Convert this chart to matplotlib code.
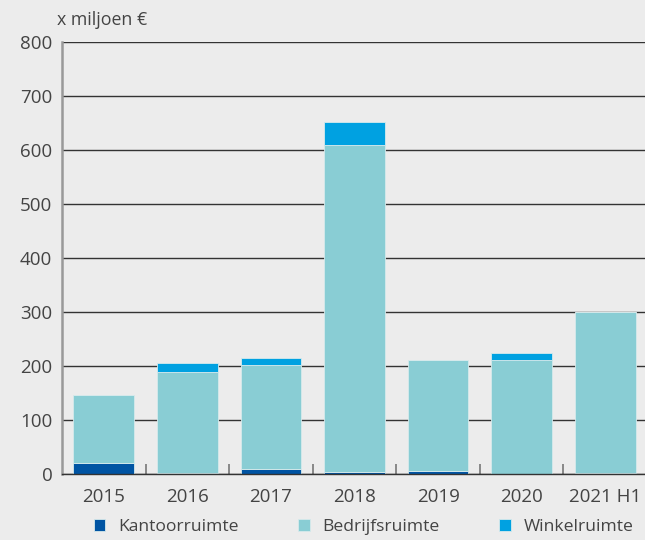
import numpy as np
import matplotlib.pyplot as plt
from matplotlib.ticker import FixedLocator

plt.rcParams['font.family'] = ['Open Sans', 'DejaVu Sans']

jaren = ['2015', '2016', '2017', '2018', '2019', '2020', '2021 H1']
kantoor = [20, 2, 9, 4, 6, 0, 2]
bedrijfs = [125.5, 187, 193, 605, 204.5, 211.6, 298]
winkel = [1, 16.5, 13, 42, 1, 13, 0]

c_kantoor = '#0054a3'
c_bedrijfs = '#89cdd4'
c_winkel = '#00a1e1'
bg = '#ececec'
txt = '#444444'

fig = plt.figure(figsize=(6.45, 5.4), dpi=100, facecolor=bg)
ax = fig.add_axes([62 / 645, 66 / 540, 585 / 645, 432 / 540], facecolor=bg)

x = np.arange(len(jaren))
k = np.array(kantoor)
b = np.array(bedrijfs)
w = np.array(winkel)
bw = 0.725
ec = '#d6eaec'
ax.bar(x, k, bw, color=c_kantoor, edgecolor=ec, linewidth=0.6, label='Kantoorruimte', zorder=3)
ax.bar(x, b, bw, bottom=k, color=c_bedrijfs, edgecolor=ec, linewidth=0.6, label='Bedrijfsruimte', zorder=3)
ax.bar(x, w, bw, bottom=k + b, color=c_winkel, edgecolor=ec, linewidth=0.6, label='Winkelruimte', zorder=3)

ax.set_xlim(-0.5, len(jaren) - 0.5)
ax.set_ylim(0, 800)
ax.set_yticks(range(0, 801, 100))
ax.yaxis.grid(True, color='#333333', linewidth=1.0, zorder=1)
ax.set_axisbelow(True)

for s in ['top', 'right']:
    ax.spines[s].set_visible(False)
ax.spines['left'].set_color('#999999')
ax.spines['left'].set_linewidth(1.8)
ax.spines['bottom'].set_color('#333333')
ax.spines['bottom'].set_linewidth(1.0)
ax.spines['bottom'].set_zorder(4)

ax.set_xticks(x)
ax.set_xticklabels(jaren)
ax.xaxis.set_minor_locator(FixedLocator(x[:-1] + 0.5))
ax.tick_params(axis='x', which='major', length=0, pad=10, labelsize=13.5, labelcolor=txt)
ax.tick_params(axis='x', which='minor', direction='in', length=7.5, width=1.2, color='#777777')
ax.tick_params(axis='y', length=0, pad=7, labelsize=13.5, labelcolor=txt)

fig.text(57 / 645, 1 - 20 / 540, 'x miljoen €', fontsize=12.8, color=txt, va='center', ha='left')

fig.legend(loc='center', bbox_to_anchor=(0.564, 1 - 527 / 540), ncol=3, frameon=False,
           fontsize=12.6, labelcolor=txt, handlelength=0.65, handleheight=0.65,
           handletextpad=0.75, columnspacing=3.4)

fig.savefig('out.png', dpi=100, facecolor=bg)
